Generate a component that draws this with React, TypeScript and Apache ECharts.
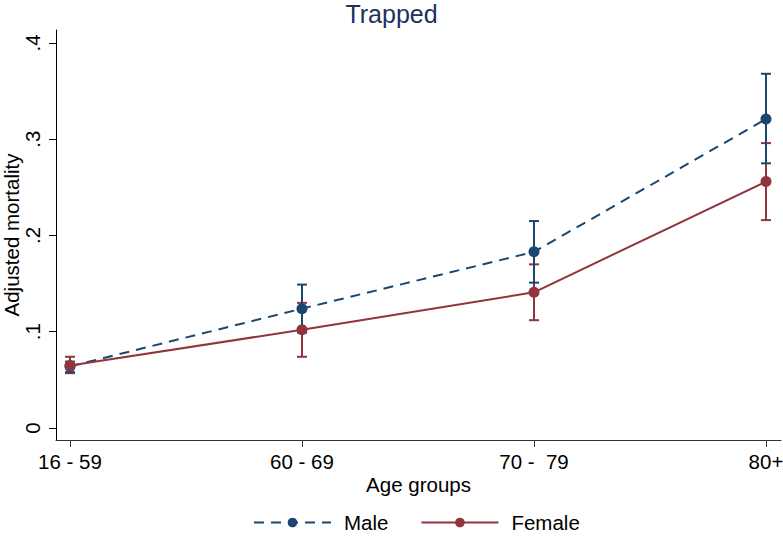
import React, { useEffect, useRef } from "react";
import * as echarts from "echarts";

const categories = ["16 - 59", "60 - 69", "70 -  79", "80+"];
const maleMean = [0.064, 0.124, 0.183, 0.321];
const maleLow = [0.058, 0.099, 0.151, 0.275];
const maleHigh = [0.069, 0.149, 0.215, 0.368];
const femaleMean = [0.065, 0.102, 0.141, 0.256];
const femaleLow = [0.057, 0.074, 0.112, 0.216];
const femaleHigh = [0.074, 0.130, 0.170, 0.296];
const yTicks = [0, 0.1, 0.2, 0.3, 0.4];

const MALE = "#1a476f";
const FEMALE = "#90353b";
const FONT = "Liberation Sans, Arial, sans-serif";
const FS = 20.5;

function errorSeries(name: string, low: number[], high: number[], color: string) {
  return {
    type: "custom",
    name: name + "_err",
    z: 3,
    data: low.map((l, i) => [i, l, high[i]]),
    renderItem: (params: any, api: any) => {
      const x = api.value(0);
      const lo = api.coord([x, api.value(1)]);
      const hi = api.coord([x, api.value(2)]);
      const hw = 5;
      const style = { stroke: color, lineWidth: 2 };
      return {
        type: "group",
        children: [
          { type: "line", shape: { x1: lo[0], y1: lo[1], x2: hi[0], y2: hi[1] }, style },
          { type: "line", shape: { x1: lo[0] - hw, y1: lo[1], x2: lo[0] + hw, y2: lo[1] }, style },
          { type: "line", shape: { x1: hi[0] - hw, y1: hi[1], x2: hi[0] + hw, y2: hi[1] }, style },
        ],
      };
    },
  };
}

export default function App() {
  const ref = useRef<HTMLDivElement>(null);
  useEffect(() => {
    if (!ref.current) return;
    const chart = echarts.init(ref.current, null, { renderer: "svg" });
    const idx = categories.map((_, i) => i);
    chart.setOption({
      animation: false,
      backgroundColor: "#ffffff",
      title: {
        text: "Trapped",
        left: "center",
        top: -4,
        textStyle: { fontFamily: FONT, fontSize: 25, fontWeight: "normal", color: "#1c2f5e" },
      },
      legend: {
        left: 253,
        top: 512,
        padding: 0,
        itemWidth: 77,
        itemHeight: 12,
        itemGap: 32,
        textStyle: { fontFamily: FONT, fontSize: FS, color: "#000", padding: [0, 0, 0, 8] },
        data: ["Male", "Female"],
      },
      grid: { left: 56, top: 30, right: 2, bottom: 96, containLabel: false, outerBoundsMode: "none" },
      xAxis: {
        type: "value",
        min: -0.0603,
        max: 3.0647,
        name: "Age groups",
        nameLocation: "middle",
        nameGap: 34,
        nameMoveOverlap: false,
        nameTextStyle: { fontFamily: FONT, fontSize: FS, color: "#000" },
        axisLine: { show: true, onZero: false, lineStyle: { color: "#333", width: 1 } },
        axisTick: { show: true, length: 7, customValues: idx, lineStyle: { color: "#333" } },
        axisLabel: {
          customValues: idx,
          margin: 11,
          fontFamily: FONT,
          fontSize: FS,
          color: "#000",
          formatter: (v: number) => categories[Math.round(v)] ?? "",
        },
        splitLine: { show: false },
      },
      yAxis: {
        type: "value",
        min: -0.01247,
        max: 0.4135,
        name: "Adjusted mortality",
        nameLocation: "middle",
        nameGap: 34,
        nameRotate: 90,
        nameMoveOverlap: false,
        nameTextStyle: { fontFamily: FONT, fontSize: FS, color: "#000" },
        axisLine: { show: true, onZero: false, lineStyle: { color: "#000", width: 1 } },
        axisTick: { show: true, length: 7, customValues: yTicks, lineStyle: { color: "#000" } },
        axisLabel: {
          customValues: yTicks,
          rotate: 90,
          margin: 13,
          fontFamily: FONT,
          fontSize: FS,
          color: "#000",
          formatter: (v: number) => (v === 0 ? "0" : "." + Math.round(v * 10)),
        },
        splitLine: { show: false },
      },
      series: [
        errorSeries("Female", femaleLow, femaleHigh, FEMALE),
        errorSeries("Male", maleLow, maleHigh, MALE),
        {
          type: "line",
          name: "Male",
          z: 4,
          data: maleMean.map((v, i) => [i, v]),
          symbol: "circle",
          symbolSize: 11,
          itemStyle: { color: MALE },
          lineStyle: { color: MALE, width: 2, type: [10, 7] },
        },
        {
          type: "line",
          name: "Female",
          z: 5,
          data: femaleMean.map((v, i) => [i, v]),
          symbol: "circle",
          symbolSize: 11,
          itemStyle: { color: FEMALE },
          lineStyle: { color: FEMALE, width: 2 },
        },
      ],
    });
    return () => chart.dispose();
  }, []);
  return (
    <div
      ref={ref}
      style={{ position: "fixed", left: 0, top: 0, width: 783, height: 536 }}
    />
  );
}
